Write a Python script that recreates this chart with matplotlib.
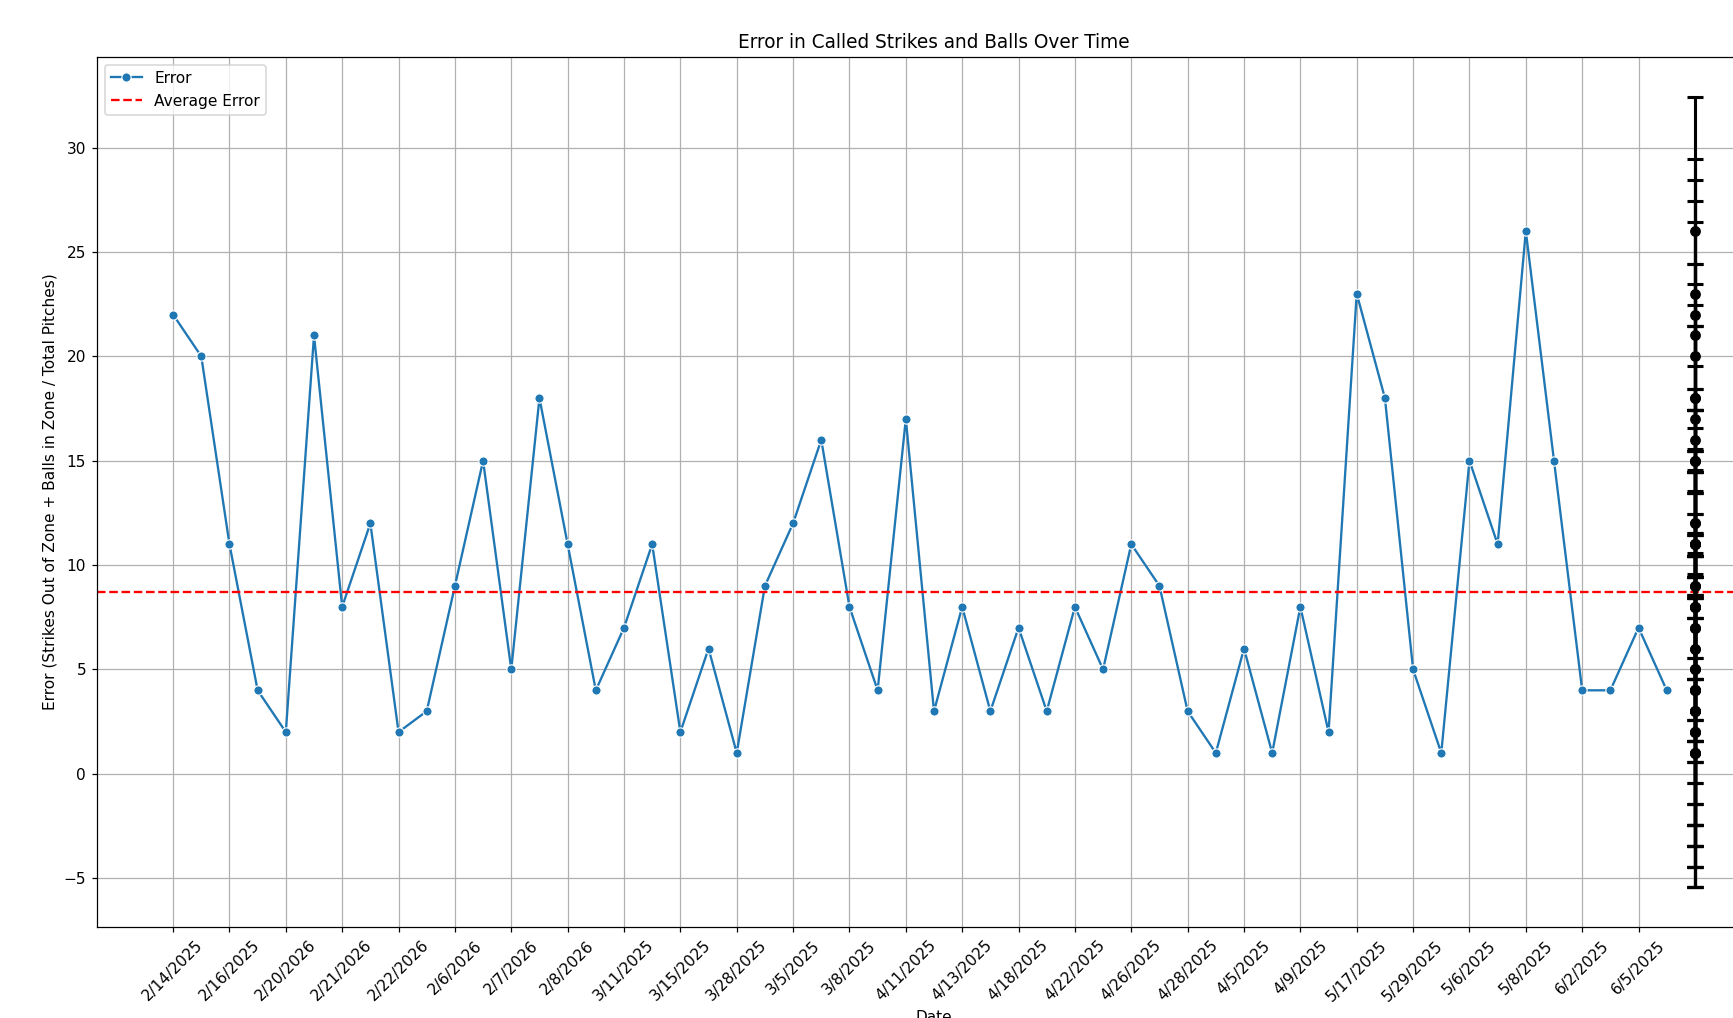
import numpy as np
import matplotlib.pyplot as plt

# Data (one point per game, labels shown on every other point)
tick_dates = ['2/14/2025', '2/16/2025', '2/20/2026', '2/21/2026', '2/22/2026',
              '2/6/2026', '2/7/2026', '2/8/2026', '3/11/2025', '3/15/2025',
              '3/28/2025', '3/5/2025', '3/8/2025', '4/11/2025', '4/13/2025',
              '4/18/2025', '4/22/2025', '4/26/2025', '4/28/2025', '4/5/2025',
              '4/9/2025', '5/17/2025', '5/29/2025', '5/6/2025', '5/8/2025',
              '6/2/2025', '6/5/2025']

errors = [22, 20, 11, 4, 2, 21, 8, 12, 2, 3, 9, 15, 5, 18, 11, 4, 7, 11,
          2, 6, 1, 9, 12, 16, 8, 4, 17, 3, 8, 3, 7, 3, 8, 5, 11, 9, 3, 1,
          6, 1, 8, 2, 23, 18, 5, 1, 15, 11, 26, 15, 4, 4, 7, 4]

x = np.arange(len(errors))
avg_error = np.mean(errors)
std_error = np.std(errors, ddof=1)

dpi = 111
fig = plt.figure(figsize=(1733 / dpi, 1018 / dpi), dpi=dpi)
ax = fig.add_axes([97 / 1733, 91 / 1018, (1771 - 97) / 1733, (927 - 57) / 1018])

ax.plot(x, errors, marker='o', color='#1f77b4', markersize=6,
        markeredgecolor='white', markeredgewidth=0.75, label='Error')
ax.axhline(avg_error, color='red', linestyle='--', label='Average Error')

# spread of all errors drawn at the slot after the last game
ax.errorbar(np.full(len(errors), len(errors)), errors, yerr=std_error,
            fmt='o', color='black', markersize=6, elinewidth=2,
            capsize=5, capthick=2)

ax.set_xticks(x[::2])
ax.set_xticklabels(tick_dates, rotation=45)
ax.set_title('Error in Called Strikes and Balls Over Time')
ax.set_xlabel('Date')
ax.set_ylabel('Error (Strikes Out of Zone + Balls in Zone / Total Pitches)')
ax.grid(True)
ax.legend(loc='upper left')

fig.savefig('out.png', dpi=dpi)
